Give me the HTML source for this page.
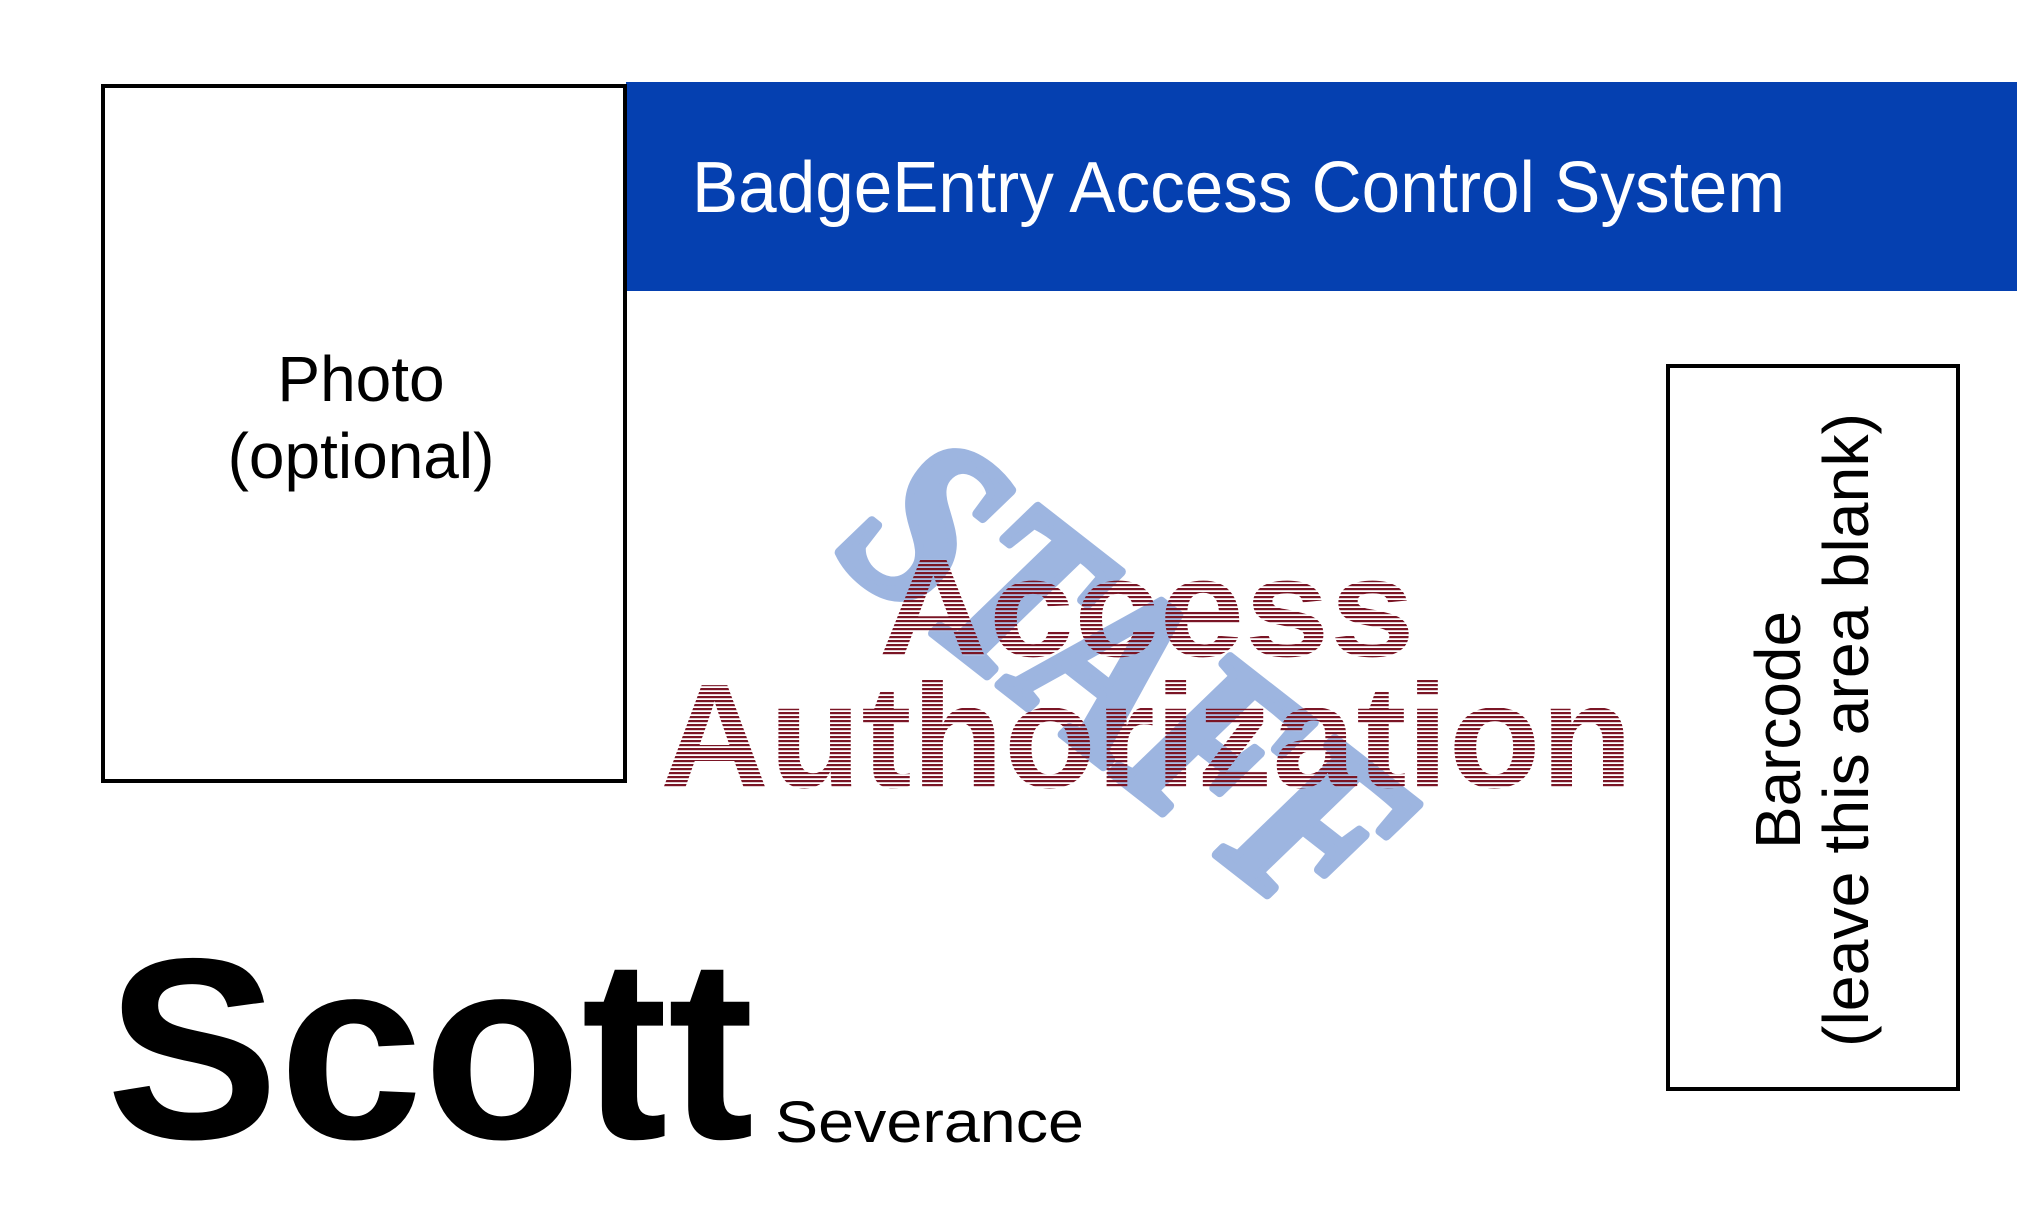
<!DOCTYPE html>
<html><head><meta charset="utf-8"><style>html,body{margin:0;padding:0;background:#fff;}svg{display:block}</style></head>
<body>
<svg width="2017" height="1206" viewBox="0 0 2017 1206" xmlns="http://www.w3.org/2000/svg">
<defs>
<pattern id="st" width="4" height="4" patternUnits="userSpaceOnUse">
<rect width="4" height="4" fill="#ffffff" fill-opacity="0.15"/>
<rect width="4" height="2.2" fill="#7a1525"/>
</pattern>
</defs>
<rect x="0" y="0" width="2017" height="1206" fill="#fff"/>
<rect x="626" y="82" width="1391" height="209" fill="#0540B0"/>
<text x="692" y="212" font-family="Liberation Sans, sans-serif" font-size="72" fill="#fff" textLength="1093" lengthAdjust="spacingAndGlyphs">BadgeEntry Access Control System</text>
<rect x="103" y="86" width="522" height="695" fill="none" stroke="#000" stroke-width="4"/>
<text x="361" y="401" text-anchor="middle" font-family="Liberation Sans, sans-serif" font-size="64" fill="#000">Photo</text>
<text x="361" y="478" text-anchor="middle" font-family="Liberation Sans, sans-serif" font-size="64" fill="#000">(optional)</text>
<rect x="1668" y="366" width="290" height="723" fill="none" stroke="#000" stroke-width="4"/>
<text transform="translate(1800,730) rotate(-90)" text-anchor="middle" font-family="Liberation Sans, sans-serif" font-size="64" fill="#000" textLength="238" lengthAdjust="spacingAndGlyphs">Barcode</text>
<text transform="translate(1868,730) rotate(-90)" text-anchor="middle" font-family="Liberation Sans, sans-serif" font-size="64" fill="#000" textLength="634" lengthAdjust="spacingAndGlyphs">(leave this area blank)</text>
<text transform="translate(1112,700) rotate(38)" text-anchor="middle" dominant-baseline="middle" font-family="Liberation Serif, serif" font-style="italic" font-weight="bold" font-size="250" fill="#9db5e0" stroke="#9db5e0" stroke-width="10" stroke-linejoin="round" textLength="620" lengthAdjust="spacingAndGlyphs">STAFF</text>
<text x="878" y="656" font-family="Liberation Sans, sans-serif" font-weight="bold" font-size="140" fill="url(#st)" textLength="537" lengthAdjust="spacingAndGlyphs">Access</text>
<text x="660" y="787" font-family="Liberation Sans, sans-serif" font-weight="bold" font-size="148" fill="url(#st)" textLength="973" lengthAdjust="spacingAndGlyphs">Authorization</text>
<text x="106" y="1138" font-family="Liberation Sans, sans-serif" font-weight="bold" font-size="258" fill="#000" textLength="648" lengthAdjust="spacingAndGlyphs">Scott</text>
<text x="775" y="1142" font-family="Liberation Sans, sans-serif" font-size="58" fill="#000" textLength="309" lengthAdjust="spacingAndGlyphs">Severance</text>
</svg>
</body></html>
